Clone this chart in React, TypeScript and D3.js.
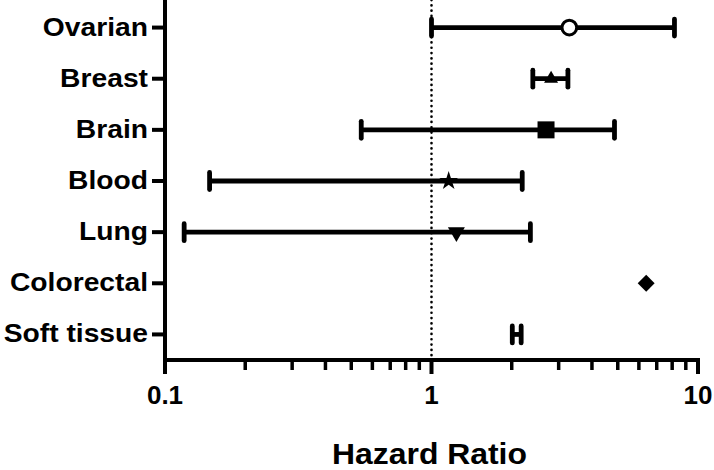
import React from "react";
import * as d3 from "d3";

const categories = ["Ovarian", "Breast", "Brain", "Blood", "Lung", "Colorectal", "Soft tissue"];
const hazardRatio = [3.29, 2.81, 2.69, 1.16, 1.24, 6.39, 2.09];
const lowerCI = [1.0, 2.4, 0.545, 0.147, 0.118, null, 2.01];
const upperCI = [8.16, 3.25, 4.86, 2.19, 2.35, null, 2.17];
const markers = ["circle", "triangle", "square", "star", "triangleDown", "diamond", "none"];
const xTickLabels = ["0.1", "1", "10"];
const xTickValues = [0.1, 1, 10];

const W = 714;
const H = 470;
const left = 165;
const right = 698;
const axisY = 360;

export default function App() {
  const x = d3.scaleLog().domain([0.1, 10]).range([left, right]);
  const y = d3.scalePoint<string>().domain(categories).range([2, axisY]).padding(0.5);

  const minorTicks: number[] = [];
  for (const dec of [0.1, 1]) {
    for (let k = 2; k <= 9; k++) minorTicks.push(dec * k);
  }

  const symbolPath = (m: string) => {
    switch (m) {
      case "circle":
        return d3.symbol().type(d3.symbolCircle).size(170)()!;
      case "triangle":
        return d3.symbol().type(d3.symbolTriangle).size(85)()!;
      case "square":
        return d3.symbol().type(d3.symbolSquare).size(289)()!;
      case "star":
        return d3.symbol().type(d3.symbolStar).size(110)()!;
      case "triangleDown":
        return d3.symbol().type(d3.symbolTriangle).size(125)()!;
      case "diamond":
        return d3.symbol().type(d3.symbolSquare).size(144)()!;
      default:
        return "";
    }
  };
  const symbolRotate = (m: string) => (m === "triangleDown" ? 180 : m === "diamond" ? 45 : 0);

  const capH = 17;

  return (
    <svg
      width={W}
      height={H}
      style={{ position: "absolute", left: 0, top: 0, background: "#fff" }}
      fontFamily="'Liberation Sans', Arial, sans-serif"
      fontWeight="bold"
    >
      <rect width={W} height={H} fill="#fff" />
      {/* reference line at 1 */}
      <line
        x1={x(1)}
        x2={x(1)}
        y1={0}
        y2={axisY}
        stroke="#000"
        strokeWidth={2.6}
        strokeDasharray="0.1 5.2"
        strokeLinecap="round"
      />
      {/* CI bars */}
      {categories.map((c, i) => {
        const lo = lowerCI[i];
        const hi = upperCI[i];
        const cy = y(c)!;
        if (lo == null || hi == null) return null;
        return (
          <g key={"ci" + c} stroke="#000" strokeWidth={4.8} strokeLinecap="round">
            <line x1={x(lo)} x2={x(hi)} y1={cy} y2={cy} strokeLinecap="butt" />
            <line x1={x(lo)} x2={x(lo)} y1={cy - capH / 2} y2={cy + capH / 2} />
            <line x1={x(hi)} x2={x(hi)} y1={cy - capH / 2} y2={cy + capH / 2} />
          </g>
        );
      })}
      {/* markers */}
      {categories.map((c, i) => {
        const m = markers[i];
        if (m === "none") return null;
        const cx = x(hazardRatio[i]);
        const cy = y(c)!;
        const isOpen = m === "circle";
        return (
          <path
            key={"m" + c}
            d={symbolPath(m)}
            transform={`translate(${cx},${cy}) rotate(${symbolRotate(m)})`}
            fill={isOpen ? "#fff" : "#000"}
            stroke="#000"
            strokeWidth={isOpen ? 3 : 0}
          />
        );
      })}
      {/* y axis */}
      <line x1={left} x2={left} y1={0} y2={axisY + 2} stroke="#000" strokeWidth={4} />
      {categories.map((c) => (
        <g key={"yt" + c}>
          <line x1={left - 13} x2={left} y1={y(c)!} y2={y(c)!} stroke="#000" strokeWidth={4} />
          <text
            transform={`translate(${left - 17},${y(c)! + 8}) scale(1.13,1)`}
            textAnchor="end"
            fontSize={25}
            fill="#000"
          >
            {c}
          </text>
        </g>
      ))}
      {/* x axis */}
      <line x1={left - 2} x2={right + 2} y1={axisY} y2={axisY} stroke="#000" strokeWidth={4} />
      {minorTicks.map((t) => (
        <line key={"mt" + t} x1={x(t)} x2={x(t)} y1={axisY} y2={axisY + 10} stroke="#000" strokeWidth={3.5} />
      ))}
      {xTickValues.map((t, i) => (
        <g key={"xt" + t}>
          <line x1={x(t)} x2={x(t)} y1={axisY} y2={axisY + 14} stroke="#000" strokeWidth={4} />
          <text x={x(t)} y={404} textAnchor="middle" fontSize={26} fill="#000">
            {xTickLabels[i]}
          </text>
        </g>
      ))}
      <text
        transform={`translate(${(left + right) / 2 - 2},464) scale(1.1,1)`}
        textAnchor="middle"
        fontSize={29}
        fill="#000"
      >
        Hazard Ratio
      </text>
    </svg>
  );
}
